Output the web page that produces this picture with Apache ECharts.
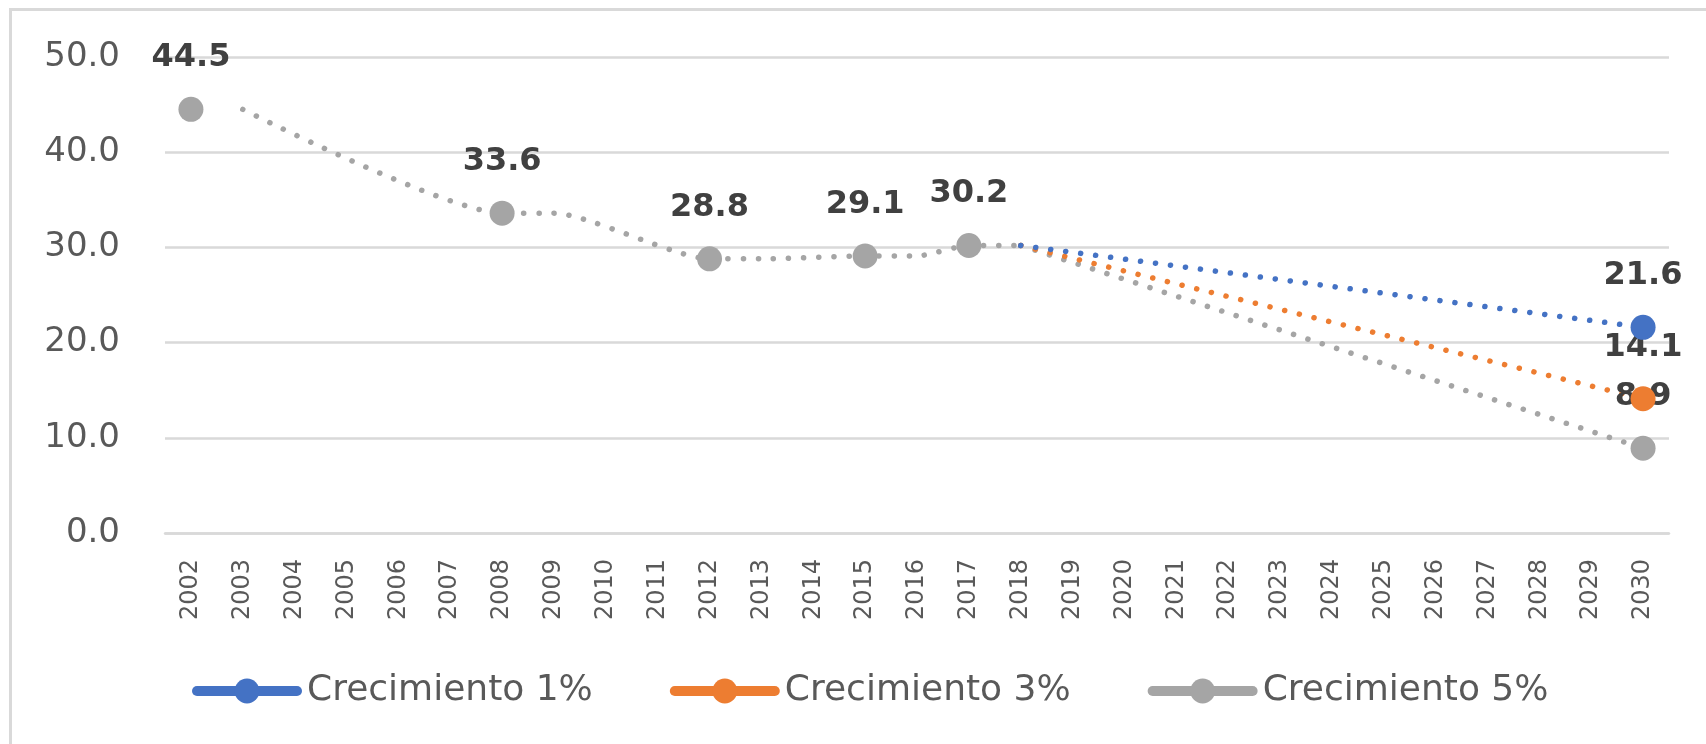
<!DOCTYPE html>
<html>
<head>
<meta charset="utf-8">
<script src="https://cdn.jsdelivr.net/npm/echarts@6/dist/echarts.min.js"></script>
<style>
html,body{margin:0;padding:0;background:#fff;}
#marco{position:absolute;left:9px;top:8px;width:1720px;height:760px;border-top:3px solid #d9d9d9;border-left:3px solid #d9d9d9;}
#grafico{position:absolute;left:0;top:0;width:1706px;height:744px;}
</style>
</head>
<body>
<div id="marco"></div>
<div id="grafico"></div>
<script>
window.addEventListener('load',start);

// categorias
var anos = [];
for (var a = 2002; a <= 2030; a++) { anos.push(String(a)); }

// lineas punteadas (null = sin dato, se conectan)
var linea1 = [null,null,null,null,null,null,null,null,null,null,null,null,null,null,null,null,30.2,null,null,null,null,null,null,null,null,null,null,null,21.6];
var linea3 = [null,null,null,null,null,null,null,null,null,null,null,null,null,null,null,null,30.2,null,null,null,null,null,null,null,null,null,null,null,14.1];
var linea5Hist = [null,44.5,null,null,null,null,33.6,33.6,null,null,28.8,28.8,null,29.1,29.1,30.2,30.2,null,null,null,null,null,null,null,null,null,null,null,null];
var linea5Proy = [null,null,null,null,null,null,null,null,null,null,null,null,null,null,null,null,30.2,null,null,null,null,null,null,null,null,null,null,null,8.9];

// marcadores con etiqueta
var marcas1Anos = ['2030'];
var marcas1Valores = [21.6];
var marcas3Anos = ['2030'];
var marcas3Valores = [14.1];
var marcas5Anos = ['2002','2008','2012','2015','2017','2030'];
var marcas5Valores = [44.5,33.6,28.8,29.1,30.2,8.9];

var nombres = ['Crecimiento 1%','Crecimiento 3%','Crecimiento 5%'];
var colores = ['#4472C4','#ED7D31','#A5A5A5'];

function parear(anosM, valores){
    return anosM.map(function(x, i){ return [x, valores[i]]; });
}

function serieLinea(nombre, color, datos, z, suave){
    return {
        name: nombre,
        type: 'line',
        data: datos,
        connectNulls: true,
        smooth: suave,
        showSymbol: false,
        symbol: 'circle',
        z: z,
        itemStyle: { color: color },
        lineStyle: { color: color, width: 5.5, type: [0.1, 15], cap: 'round' },
        emphasis: { disabled: true }
    };
}

function serieMarcas(nombre, color, datos, z){
    return {
        name: nombre,
        type: 'scatter',
        data: datos,
        symbol: 'circle',
        symbolSize: 25,
        z: z,
        itemStyle: { color: color, opacity: 1 },
        label: {
            show: true,
            position: 'top',
            distance: 23,
            color: '#404040',
            fontFamily: 'DejaVu Sans',
            fontWeight: 'bold',
            fontSize: 32,
            formatter: function(p){ return p.value[1].toFixed(1); }
        },
        emphasis: { disabled: true }
    };
}

function start(){
    var myChart = echarts.init(document.getElementById('grafico'));
    var option = {
        animation: false,
        grid: { left: 165, right: 37, top: 57, bottom: 211 },
        legend: {
            data: nombres,
            left: 187,
            top: 668,
            itemWidth: 100,
            itemHeight: 31,
            itemGap: 77,
            textStyle: { color: '#595959', fontSize: 36, fontFamily: 'DejaVu Sans', padding: [0, 0, 0, 5] },
            lineStyle: { type: 'solid', width: 10, cap: 'round' }
        },
        xAxis: {
            type: 'category',
            data: anos,
            boundaryGap: true,
            axisLine: { show: true, lineStyle: { color: '#d9d9d9', width: 2.5 } },
            axisTick: { show: false },
            axisLabel: {
                rotate: 90,
                interval: 0,
                margin: 26,
                color: '#595959',
                fontSize: 24,
                fontFamily: 'DejaVu Sans'
            }
        },
        yAxis: {
            type: 'value',
            min: 0,
            max: 50,
            interval: 10,
            axisLine: { show: false },
            axisTick: { show: false },
            splitLine: { lineStyle: { color: '#d9d9d9', width: 2.5 } },
            axisLabel: {
                margin: 45,
                color: '#595959',
                fontSize: 34,
                fontFamily: 'DejaVu Sans',
                formatter: function(v){ return v.toFixed(1); }
            }
        },
        series: [
            serieLinea(nombres[2], colores[2], linea5Hist, 2, 0.2),
            serieLinea(nombres[1], colores[1], linea3, 3, false),
            serieLinea(nombres[0], colores[0], linea1, 4, false),
            serieLinea(nombres[2], colores[2], linea5Proy, 2, false),
            serieMarcas(nombres[2], colores[2], parear(marcas5Anos, marcas5Valores), 5),
            serieMarcas(nombres[1], colores[1], parear(marcas3Anos, marcas3Valores), 6),
            serieMarcas(nombres[0], colores[0], parear(marcas1Anos, marcas1Valores), 7)
        ]
    };
    myChart.setOption(option);
}
</script>
</body>
</html>
